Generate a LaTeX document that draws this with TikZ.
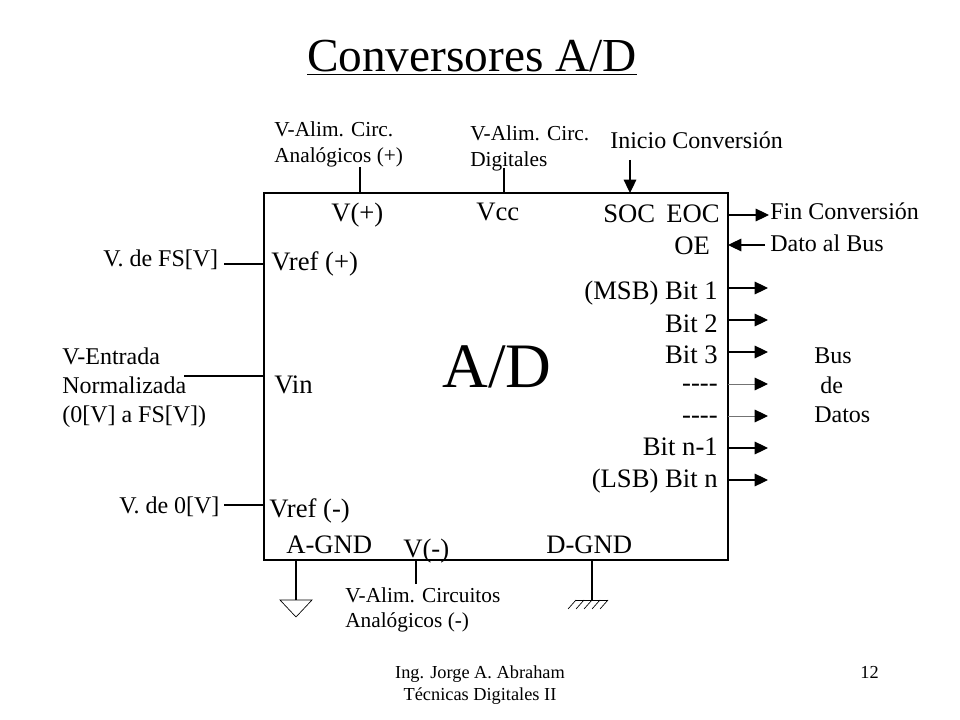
\documentclass[tikz,border=0pt]{standalone}
\usepackage{fontspec}
\setmainfont{Liberation Serif}
\usetikzlibrary{arrows.meta}
\tikzset{
	lblsmall/.style={anchor=base west, inner sep=0pt, font=\fontsize{16}{18}\selectfont},
	lblside/.style={anchor=base west, inner sep=0pt, font=\fontsize{18}{20}\selectfont},
	lblmed/.style={anchor=base west, inner sep=0pt, font=\fontsize{20}{22}\selectfont},
	lblbit/.style={anchor=base east, inner sep=0pt, font=\fontsize{20}{22}\selectfont},
	lblfoot/.style={anchor=base, inner sep=0pt, font=\fontsize{13.75}{16}\selectfont},
	wire/.style={line width=0.8pt},
	wirethin/.style={line width=0.5pt, color=black!55},
	tip/.style={-{Triangle[length=10pt,width=9.5pt]}}
}

\begin{document}
\begin{tikzpicture}[x=0.75pt, y=-0.75pt]
		%%%%% START %%%%%
		\useasboundingbox (0, 0) rectangle (960, 720);
		
		\node[anchor=base, inner sep=0pt, font=\fontsize{35.5}{40}\selectfont] (title) at (472, 72) {\underline{Conversores A/D}};
		
		\node[draw, line width=1pt, inner sep=0pt, outer sep=0pt, minimum width=348pt, minimum height=275.25pt] (adc) at (496, 376.5) {};
		\node[anchor=base, inner sep=0pt, font=\fontsize{47.5}{52}\selectfont] (adname) at (497, 387) {A/D};
		
		% top side
		\node[lblsmall] (circA) at (274, 137) {V-Alim. Circ.};
		\node[lblsmall] (circAb) at (274, 163) {Analógicos (+)};
		\node[lblsmall] (circD) at (470, 141) {V-Alim. Circ.};
		\node[lblsmall] (circDb) at (470, 167) {Digitales};
		\node[lblside] (inicio) at (610, 149) {Inicio Conversión};
		\node[lblmed] (vplus) at (331, 222) {V(+)};
		\node[lblmed] (vcc) at (476, 221) {Vcc};
		\node[lblmed] (soc) at (603, 223) {SOC};
		\node[lblmed, anchor=base east] (eoc) at (720, 223) {EOC};
		\node[lblmed] (oe) at (674, 255) {OE};
		
		\coordinate (aEnd) at (360, 167);
		\coordinate (dEnd) at (504, 168);
		\coordinate (socEnd) at (630, 160);
		\draw[wire] (aEnd) -- (aEnd |- adc.north);
		\draw[wire] (dEnd) -- (dEnd |- adc.north);
		\draw[wire, tip] (socEnd) -- (socEnd |- adc.north);
		
		% left side
		\node[lblside] (fslbl) at (103, 267) {V. de FS[V]};
		\node[lblside] (entA) at (62, 364) {V-Entrada};
		\node[lblside] (entB) at (62, 393) {Normalizada};
		\node[lblside] (entC) at (62, 422) {(0[V] a FS[V])};
		\node[lblside] (zerolbl) at (119, 513) {V. de 0[V]};
		\node[lblmed] (vrefp) at (271, 271) {Vref (+)};
		\node[lblmed] (vin) at (274, 393) {Vin};
		\node[lblmed] (vrefm) at (269, 517) {Vref (-)};
		
		\coordinate (fsEnd) at (224, 264);
		\coordinate (inEnd) at (184, 376);
		\coordinate (zeroEnd) at (224, 505);
		\draw[wire] (fsEnd) -- (fsEnd -| adc.west);
		\draw[wire] (inEnd) -- (inEnd -| adc.west);
		\draw[wire] (zeroEnd) -- (zeroEnd -| adc.west);
		
		% right side
		\node[lblbit] (bit1) at (718, 300) {(MSB) Bit 1};
		\node[lblbit] (bit2) at (718, 332) {Bit 2};
		\node[lblbit] (bit3) at (718, 363) {Bit 3};
		\node[lblbit] (dashA) at (718, 391) {{-}{-}{-}{-}};
		\node[lblbit] (dashB) at (718, 423) {{-}{-}{-}{-}};
		\node[lblbit] (bitm) at (718, 455) {Bit n-1};
		\node[lblbit] (bitn) at (718, 487) {(LSB) Bit n};
		
		\node[lblside] (finlbl) at (770, 220) {Fin Conversión};
		\node[lblside] (buslbl) at (770, 252) {Dato al Bus};
		\node[lblside] (busA) at (814, 363) {Bus};
		\node[lblside] (busB) at (820, 393) {de};
		\node[lblside] (busC) at (814, 422) {Datos};
		
		\coordinate (finEnd) at (769, 215);
		\coordinate (busEnd) at (765, 245);
		\draw[wire, tip] (finEnd -| adc.east) -- (finEnd);
		\draw[wire, tip] (busEnd) -- (busEnd -| adc.east);
		
		\foreach \ybit/\wstyle in {288/wire, 320/wire, 352/wire, 384/wirethin, 416/wirethin, 448/wire, 480/wire} {
			\coordinate (outEnd) at (768, \ybit);
			\draw[\wstyle] (outEnd -| adc.east) -- (756, \ybit);
			\draw[wire, tip] (755, \ybit) -- (outEnd);
		}
		
		% bottom side
		\node[lblmed] (agnd) at (286, 553) {A-GND};
		\node[lblmed] (vminus) at (403, 557) {V(-)};
		\node[lblmed] (dgnd) at (546, 553) {D-GND};
		\node[lblsmall] (minA) at (345, 602) {V-Alim. Circuitos};
		\node[lblsmall] (minB) at (345, 627) {Analógicos (-)};
		
		\coordinate (agndEnd) at (296, 600);
		\coordinate (minEnd) at (416, 584);
		\coordinate (dgndEnd) at (592, 600);
		\draw[wire] (agndEnd) -- (agndEnd |- adc.south);
		\draw[wire] (minEnd) -- (minEnd |- adc.south);
		\draw[wire] (dgndEnd) -- (dgndEnd |- adc.south);
		\draw[line width=0.5pt] (280, 600) -- (312, 600) -- (296, 617) -- cycle;
		\draw[line width=0.6pt] (576, 600) -- (608, 600);
		\foreach \xh in {576, 584, 592, 600, 608} {
			\draw[line width=0.5pt] (\xh, 600) -- (\xh-8, 609);
		}
		
		% footer
		\node[lblfoot] (footA) at (480, 678) {Ing. Jorge A. Abraham};
		\node[lblfoot] (footB) at (480, 700) {Técnicas Digitales II};
		\node[lblfoot] (pagenum) at (869.5, 678) {12};
		
		%%%%% END %%%%%
	\end{tikzpicture}
\end{document}
